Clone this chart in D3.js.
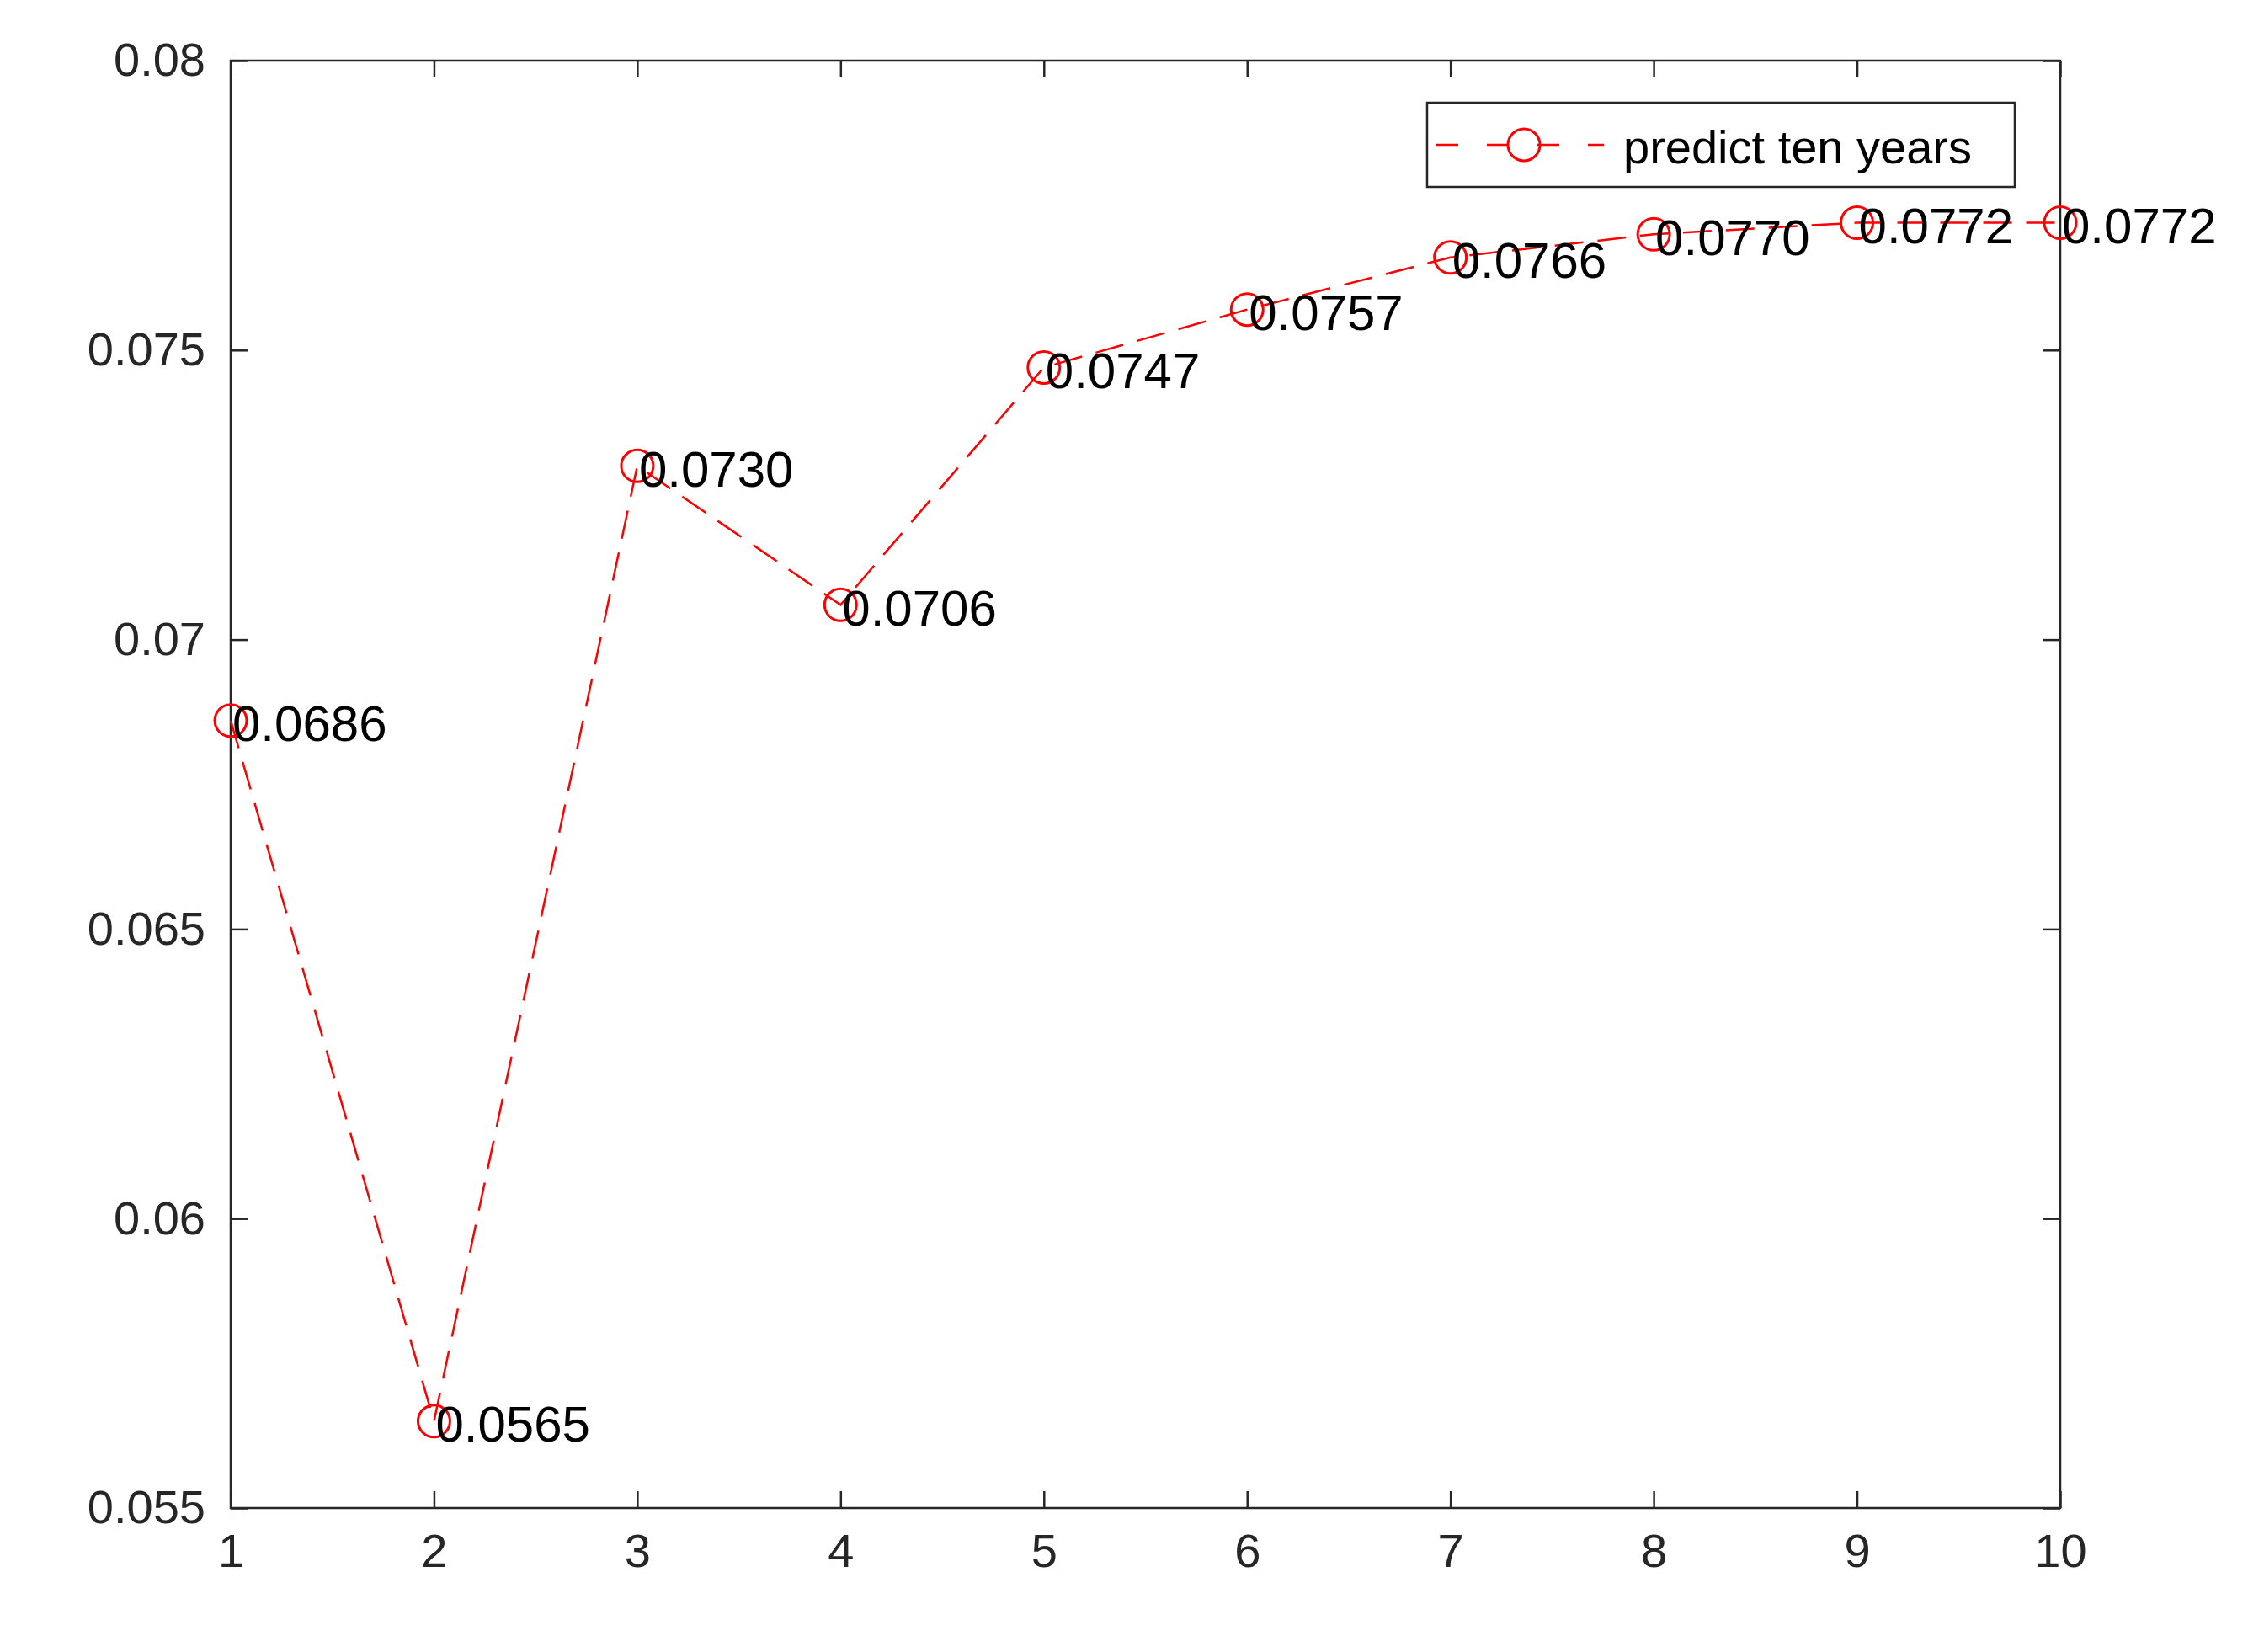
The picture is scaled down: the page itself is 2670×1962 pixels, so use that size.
<!DOCTYPE html>
<html><head><meta charset="utf-8">
<script src="https://cdn.jsdelivr.net/npm/d3@7"></script>
<style>body{margin:0;background:#fff}</style>
</head><body>
<svg id="chart" width="2670" height="1962"></svg>
<script>
var years = [1,2,3,4,5,6,7,8,9,10]
var values = [0.0686,0.0565,0.0730,0.0706,0.0747,0.0757,0.0766,0.0770,0.0772,0.0772]
var labels = ["0.0686","0.0565","0.0730","0.0706","0.0747","0.0757","0.0766","0.0770","0.0772","0.0772"]
var yTicks = [0.055,0.06,0.065,0.07,0.075,0.08]
var yTickLabels = ["0.055","0.06","0.065","0.07","0.075","0.08"]
var legendText = "predict ten years"

var L = 274, R = 2447, T = 72, B = 1791
var svg = d3.select('#chart')
var font = "Liberation Sans, Arial, sans-serif"
var x = d3.scaleLinear().domain([1,10]).range([L,R])
var y = d3.scaleLinear().domain([0.055,0.08]).range([B,T])
var ax = '#262626'

// inward ticks on all four sides
svg.append('g').attr('transform','translate(0,'+B+')')
  .call(d3.axisBottom(x).tickValues(years).tickSize(-20).tickPadding(30).tickFormat(d3.format('d')))
svg.append('g').attr('transform','translate(0,'+T+')')
  .call(d3.axisTop(x).tickValues(years).tickSize(-20).tickFormat(''))
svg.append('g').attr('transform','translate('+L+',0)')
  .call(d3.axisLeft(y).tickValues(yTicks).tickSize(-20).tickPadding(30).tickFormat(function(d,i){return yTickLabels[i]}))
svg.append('g').attr('transform','translate('+R+',0)')
  .call(d3.axisRight(y).tickValues(yTicks).tickSize(-20).tickFormat(''))
svg.selectAll('.domain').remove()
svg.selectAll('.tick line').attr('stroke',ax).attr('stroke-width',2.5)
svg.selectAll('.tick text').attr('fill',ax).style('font-family',font).style('font-size','56px')
svg.append('rect').attr('x',L).attr('y',T).attr('width',R-L).attr('height',B-T)
  .attr('fill','none').attr('stroke',ax).attr('stroke-width',2.5)

var line = d3.line().x(function(d,i){return x(years[i])}).y(function(d){return y(d)})
svg.append('path').datum(values).attr('d',line).attr('fill','none')
  .attr('stroke','#ff0000').attr('stroke-width',2.5).attr('stroke-dasharray','34,17')
svg.selectAll('circle.pt').data(values).enter().append('circle').attr('class','pt')
  .attr('cx',function(d,i){return x(years[i])}).attr('cy',function(d){return y(d)})
  .attr('r',19).attr('fill','none').attr('stroke','#ff0000').attr('stroke-width',3)
svg.selectAll('text.lbl').data(values).enter().append('text').attr('class','lbl')
  .attr('x',function(d,i){return x(years[i])+2}).attr('y',function(d){return y(d)+4})
  .attr('dominant-baseline','central')
  .style('font-family',font).style('font-size','60px').attr('fill','#000')
  .text(function(d,i){return labels[i]})

// legend
var lg = svg.append('g')
lg.append('rect').attr('x',1695).attr('y',122).attr('width',698).attr('height',100)
  .attr('fill','#fff').attr('stroke',ax).attr('stroke-width',2.5)
lg.append('line').attr('x1',1706).attr('x2',1905).attr('y1',172).attr('y2',172)
  .attr('stroke','#ff0000').attr('stroke-width',2.5).attr('stroke-dasharray','26,34')
lg.append('circle').attr('cx',1810).attr('cy',172).attr('r',19).attr('fill','none')
  .attr('stroke','#ff0000').attr('stroke-width',3)
lg.append('text').attr('x',1928).attr('y',174).attr('dominant-baseline','central')
  .style('font-family',font).style('font-size','56px').attr('fill','#000').text(legendText)
</script>
</body></html>
